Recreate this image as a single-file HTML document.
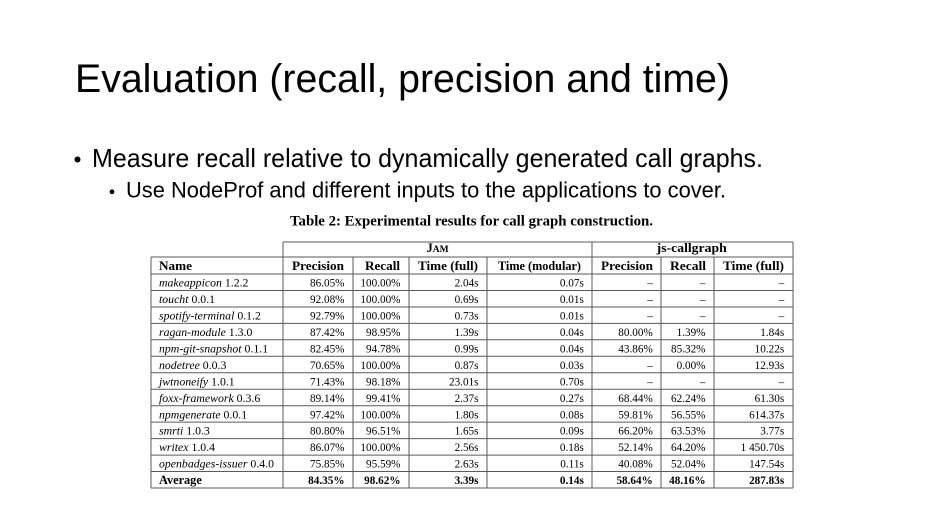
<!DOCTYPE html>
<html><head><meta charset="utf-8"><style>
html,body{margin:0;padding:0;background:#fff;}
svg{display:block;}
.t{font-family:"Liberation Sans",sans-serif;fill:#000;}
.s{font-family:"Liberation Serif",serif;fill:#000;}
.n{font-size:11.8px;}
.d{font-size:11.2px;text-anchor:end;}
.h{font-size:12.5px;font-weight:bold;text-anchor:middle;}
.b{font-weight:bold;}
line{stroke:#5a5a5a;stroke-width:1;}
</style></head><body>
<svg width="945" height="532" viewBox="0 0 945 532" xmlns="http://www.w3.org/2000/svg">
<rect width="945" height="532" fill="#fff"/>
<text class="t" x="75" y="92" font-size="40" textLength="655" lengthAdjust="spacingAndGlyphs">Evaluation (recall, precision and time)</text>
<circle cx="77.5" cy="159.5" r="3" fill="#000"/>
<text class="t" x="92" y="167" font-size="25.6" textLength="671" lengthAdjust="spacingAndGlyphs">Measure recall relative to dynamically generated call graphs.</text>
<circle cx="112" cy="191.8" r="2.4" fill="#000"/>
<text class="t" x="126" y="197.5" font-size="22" textLength="600" lengthAdjust="spacingAndGlyphs">Use NodeProf and different inputs to the applications to cover.</text>
<text class="s b" x="290" y="225.5" font-size="14.5" textLength="363" lengthAdjust="spacingAndGlyphs">Table 2: Experimental results for call graph construction.</text>

<!-- table lines -->
<line x1="283" y1="242" x2="793" y2="242"/>
<line x1="151" y1="257" x2="793" y2="257"/>
<line x1="151" y1="274" x2="793" y2="274"/>
<line x1="151" y1="290.5" x2="793" y2="290.5"/>
<line x1="151" y1="307" x2="793" y2="307"/>
<line x1="151" y1="323.4" x2="793" y2="323.4"/>
<line x1="151" y1="339.8" x2="793" y2="339.8"/>
<line x1="151" y1="356.3" x2="793" y2="356.3"/>
<line x1="151" y1="372.8" x2="793" y2="372.8"/>
<line x1="151" y1="389.2" x2="793" y2="389.2"/>
<line x1="151" y1="405.7" x2="793" y2="405.7"/>
<line x1="151" y1="422.1" x2="793" y2="422.1"/>
<line x1="151" y1="438.6" x2="793" y2="438.6"/>
<line x1="151" y1="455.1" x2="793" y2="455.1"/>
<line x1="151" y1="471.5" x2="793" y2="471.5"/>
<line x1="151" y1="488" x2="793" y2="488"/>
<line x1="151" y1="257" x2="151" y2="488"/>
<line x1="283" y1="242" x2="283" y2="488"/>
<line x1="353" y1="257" x2="353" y2="488"/>
<line x1="409" y1="257" x2="409" y2="488"/>
<line x1="487" y1="257" x2="487" y2="488"/>
<line x1="592" y1="242" x2="592" y2="488"/>
<line x1="661" y1="257" x2="661" y2="488"/>
<line x1="714" y1="257" x2="714" y2="488"/>
<line x1="793" y1="242" x2="793" y2="488"/>

<!-- group headers -->
<text class="s h" x="437.5" y="252"><tspan>J</tspan><tspan font-size="9.5">AM</tspan></text>
<text class="s h" x="691.7" y="252" textLength="70" lengthAdjust="spacingAndGlyphs">js-callgraph</text>
<!-- headers -->
<text class="s b" x="159" y="270" font-size="12.5" textLength="33" lengthAdjust="spacingAndGlyphs">Name</text>
<text class="s h" x="318" y="270" textLength="52" lengthAdjust="spacingAndGlyphs">Precision</text>
<text class="s h" x="382.5" y="270" textLength="35" lengthAdjust="spacingAndGlyphs">Recall</text>
<text class="s h" x="448" y="270" textLength="60" lengthAdjust="spacingAndGlyphs">Time (full)</text>
<text class="s h" x="539.5" y="270" textLength="83" lengthAdjust="spacingAndGlyphs">Time (modular)</text>
<text class="s h" x="627" y="270" textLength="52" lengthAdjust="spacingAndGlyphs">Precision</text>
<text class="s h" x="688" y="270" textLength="36" lengthAdjust="spacingAndGlyphs">Recall</text>
<text class="s h" x="753.5" y="270" textLength="61" lengthAdjust="spacingAndGlyphs">Time (full)</text>

<!-- names -->
<g class="s n">
<text x="159" y="286.6"><tspan font-style="italic">makeappicon</tspan> 1.2.2</text>
<text x="159" y="303.1"><tspan font-style="italic">toucht</tspan> 0.0.1</text>
<text x="159" y="319.5"><tspan font-style="italic">spotify-terminal</tspan> 0.1.2</text>
<text x="159" y="336"><tspan font-style="italic">ragan-module</tspan> 1.3.0</text>
<text x="159" y="352.4"><tspan font-style="italic">npm-git-snapshot</tspan> 0.1.1</text>
<text x="159" y="368.9"><tspan font-style="italic">nodetree</tspan> 0.0.3</text>
<text x="159" y="385.4"><tspan font-style="italic">jwtnoneify</tspan> 1.0.1</text>
<text x="159" y="401.8"><tspan font-style="italic">foxx-framework</tspan> 0.3.6</text>
<text x="159" y="418.3"><tspan font-style="italic">npmgenerate</tspan> 0.0.1</text>
<text x="159" y="434.7"><tspan font-style="italic">smrti</tspan> 1.0.3</text>
<text x="159" y="451.2"><tspan font-style="italic">writex</tspan> 1.0.4</text>
<text x="159" y="467.7"><tspan font-style="italic">openbadges-issuer</tspan> 0.4.0</text>
<text x="159" y="484.1" font-weight="bold" font-size="12.3">Average</text>
</g>

<!-- col 1 Precision -->
<g class="s d">
<text x="344.5" y="286.6">86.05%</text>
<text x="344.5" y="303.1">92.08%</text>
<text x="344.5" y="319.5">92.79%</text>
<text x="344.5" y="336">87.42%</text>
<text x="344.5" y="352.4">82.45%</text>
<text x="344.5" y="368.9">70.65%</text>
<text x="344.5" y="385.4">71.43%</text>
<text x="344.5" y="401.8">89.14%</text>
<text x="344.5" y="418.3">97.42%</text>
<text x="344.5" y="434.7">80.80%</text>
<text x="344.5" y="451.2">86.07%</text>
<text x="344.5" y="467.7">75.85%</text>
<text x="344.5" y="484.1" font-weight="bold">84.35%</text>
</g>
<!-- col 2 Recall -->
<g class="s d">
<text x="400.5" y="286.6">100.00%</text>
<text x="400.5" y="303.1">100.00%</text>
<text x="400.5" y="319.5">100.00%</text>
<text x="400.5" y="336">98.95%</text>
<text x="400.5" y="352.4">94.78%</text>
<text x="400.5" y="368.9">100.00%</text>
<text x="400.5" y="385.4">98.18%</text>
<text x="400.5" y="401.8">99.41%</text>
<text x="400.5" y="418.3">100.00%</text>
<text x="400.5" y="434.7">96.51%</text>
<text x="400.5" y="451.2">100.00%</text>
<text x="400.5" y="467.7">95.59%</text>
<text x="400.5" y="484.1" font-weight="bold">98.62%</text>
</g>
<!-- col 3 Time full -->
<g class="s d">
<text x="478.5" y="286.6">2.04s</text>
<text x="478.5" y="303.1">0.69s</text>
<text x="478.5" y="319.5">0.73s</text>
<text x="478.5" y="336">1.39s</text>
<text x="478.5" y="352.4">0.99s</text>
<text x="478.5" y="368.9">0.87s</text>
<text x="478.5" y="385.4">23.01s</text>
<text x="478.5" y="401.8">2.37s</text>
<text x="478.5" y="418.3">1.80s</text>
<text x="478.5" y="434.7">1.65s</text>
<text x="478.5" y="451.2">2.56s</text>
<text x="478.5" y="467.7">2.63s</text>
<text x="478.5" y="484.1" font-weight="bold">3.39s</text>
</g>
<!-- col 4 Time modular -->
<g class="s d">
<text x="583.8" y="286.6">0.07s</text>
<text x="583.8" y="303.1">0.01s</text>
<text x="583.8" y="319.5">0.01s</text>
<text x="583.8" y="336">0.04s</text>
<text x="583.8" y="352.4">0.04s</text>
<text x="583.8" y="368.9">0.03s</text>
<text x="583.8" y="385.4">0.70s</text>
<text x="583.8" y="401.8">0.27s</text>
<text x="583.8" y="418.3">0.08s</text>
<text x="583.8" y="434.7">0.09s</text>
<text x="583.8" y="451.2">0.18s</text>
<text x="583.8" y="467.7">0.11s</text>
<text x="583.8" y="484.1" font-weight="bold">0.14s</text>
</g>
<!-- col 5 js Precision -->
<g class="s d">
<text x="652.8" y="286.6">–</text>
<text x="652.8" y="303.1">–</text>
<text x="652.8" y="319.5">–</text>
<text x="652.8" y="336">80.00%</text>
<text x="652.8" y="352.4">43.86%</text>
<text x="652.8" y="368.9">–</text>
<text x="652.8" y="385.4">–</text>
<text x="652.8" y="401.8">68.44%</text>
<text x="652.8" y="418.3">59.81%</text>
<text x="652.8" y="434.7">66.20%</text>
<text x="652.8" y="451.2">52.14%</text>
<text x="652.8" y="467.7">40.08%</text>
<text x="652.8" y="484.1" font-weight="bold">58.64%</text>
</g>
<!-- col 6 js Recall -->
<g class="s d">
<text x="705.5" y="286.6">–</text>
<text x="705.5" y="303.1">–</text>
<text x="705.5" y="319.5">–</text>
<text x="705.5" y="336">1.39%</text>
<text x="705.5" y="352.4">85.32%</text>
<text x="705.5" y="368.9">0.00%</text>
<text x="705.5" y="385.4">–</text>
<text x="705.5" y="401.8">62.24%</text>
<text x="705.5" y="418.3">56.55%</text>
<text x="705.5" y="434.7">63.53%</text>
<text x="705.5" y="451.2">64.20%</text>
<text x="705.5" y="467.7">52.04%</text>
<text x="705.5" y="484.1" font-weight="bold">48.16%</text>
</g>
<!-- col 7 js Time full -->
<g class="s d">
<text x="784.2" y="286.6">–</text>
<text x="784.2" y="303.1">–</text>
<text x="784.2" y="319.5">–</text>
<text x="784.2" y="336">1.84s</text>
<text x="784.2" y="352.4">10.22s</text>
<text x="784.2" y="368.9">12.93s</text>
<text x="784.2" y="385.4">–</text>
<text x="784.2" y="401.8">61.30s</text>
<text x="784.2" y="418.3">614.37s</text>
<text x="784.2" y="434.7">3.77s</text>
<text x="784.2" y="451.2">1 450.70s</text>
<text x="784.2" y="467.7">147.54s</text>
<text x="784.2" y="484.1" font-weight="bold">287.83s</text>
</g>
</svg>
</body></html>
